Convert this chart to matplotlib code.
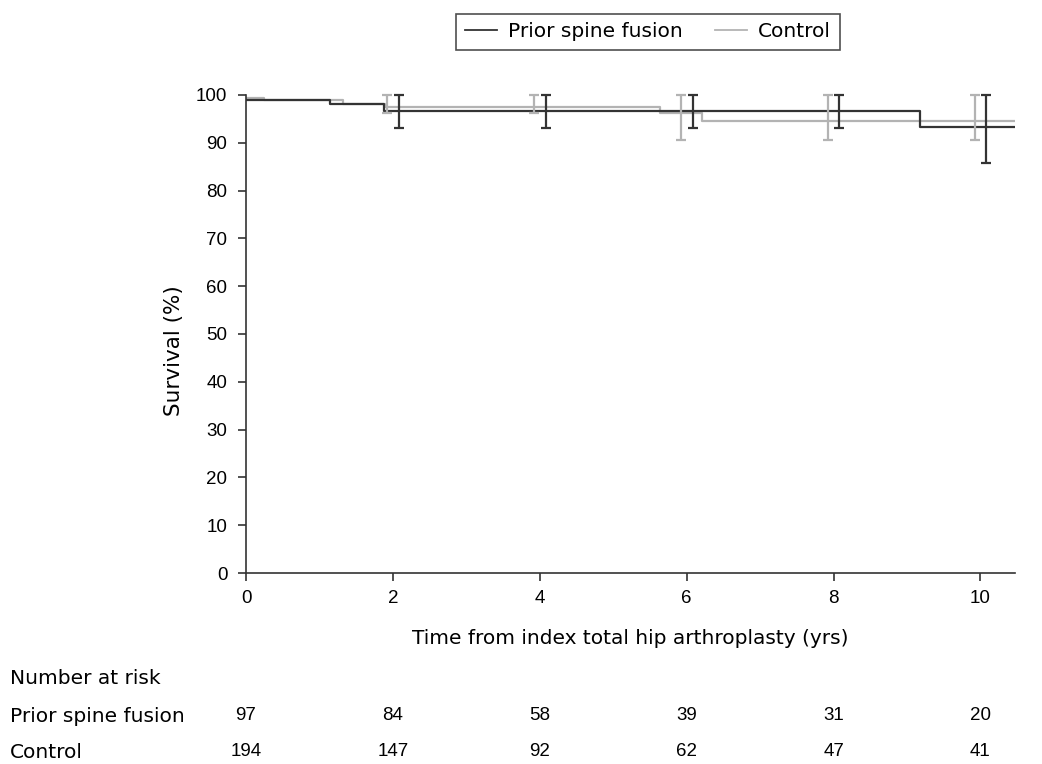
import matplotlib
matplotlib.use("Agg")
import matplotlib.pyplot as plt
import matplotlib.transforms as mtransforms
from matplotlib.lines import Line2D
import numpy as np

plt.rcParams['font.family'] = ['Liberation Sans', 'DejaVu Sans']

# Kaplan-Meier step data (survival %)
pf_times = [0, 1.15, 1.88, 9.18, 10.5]
pf_surv = [99.0, 98.1, 96.6, 93.4, 93.4]
ctrl_times = [0, 0.24, 1.32, 1.89, 5.63, 6.21, 10.5]
ctrl_surv = [99.4, 99.0, 98.1, 97.5, 96.3, 94.6, 94.6]

# Confidence intervals at yearly marks
ci_times = [2, 4, 6, 8, 10]
pf_ci_low = [93.1, 93.1, 93.1, 93.1, 85.7]
pf_ci_high = [100, 100, 100, 100, 100]
ctrl_ci_low = [96.3, 96.3, 90.6, 90.6, 90.6]
ctrl_ci_high = [100, 100, 100, 100, 100]

# Number at risk
risk_times = [0, 2, 4, 6, 8, 10]
pf_risk = [97, 84, 58, 39, 31, 20]
ctrl_risk = [194, 147, 92, 62, 47, 41]

x_ticks = [0, 2, 4, 6, 8, 10]
y_ticks = [0, 10, 20, 30, 40, 50, 60, 70, 80, 90, 100]

dark = '#333333'
light = '#b3b3b3'
fs_tick = 13.5
fs = 14.5
tfam = ['DejaVu Sans']

fig = plt.figure(figsize=(10.42, 7.64), dpi=100)
ax = fig.add_axes([0.2361, 0.25, 0.738, 0.6257])

ax.step(ctrl_times, ctrl_surv, where='post', color=light, lw=1.6, zorder=2)
ax.step(pf_times, pf_surv, where='post', color=dark, lw=1.6, zorder=3)

off = 0.08
ct = np.array(ci_times)
for xs, lo, hi, c in [(ct - off, ctrl_ci_low, ctrl_ci_high, light),
                      (ct + off, pf_ci_low, pf_ci_high, dark)]:
    lo = np.array(lo); hi = np.array(hi)
    ax.errorbar(xs, lo, yerr=[np.zeros_like(lo), hi - lo], fmt='none',
                ecolor=c, elinewidth=1.6, capsize=3.3, capthick=1.6,
                clip_on=False, zorder=4)

ax.set_xlim(0, 10.47)
ax.set_ylim(0, 100)
ax.set_xticks(x_ticks)
ax.set_yticks(y_ticks)
ax.tick_params(labelsize=fs_tick, length=6, width=1.2, color=dark)
ax.tick_params(axis='x', pad=6)
ax.tick_params(axis='y', pad=7.5)
for s in ['top', 'right']:
    ax.spines[s].set_visible(False)
for s in ['left', 'bottom']:
    ax.spines[s].set_color(dark)
    ax.spines[s].set_linewidth(1.2)

fig.text(630 / 1042, 1 - 638 / 764, 'Time from index total hip arthroplasty (yrs)',
         fontsize=fs, family=tfam, ha='center', va='center')
fig.text(174 / 1042, 1 - 351 / 764, 'Survival (%)', fontsize=15.5, family=tfam,
         rotation=90, ha='center', va='center')

handles = [Line2D([], [], color=dark, lw=1.3), Line2D([], [], color=light, lw=1.3)]
leg = fig.legend(handles, ['Prior spine fusion', 'Control'], ncol=2,
                 loc='upper center', bbox_to_anchor=(648 / 1042, 1 - 14 / 764),
                 prop={'family': tfam, 'size': fs}, frameon=True, fancybox=False,
                 handlelength=1.6, handletextpad=0.55, columnspacing=1.6,
                 borderpad=0.42, borderaxespad=0)
leg.get_frame().set_edgecolor('#222222')
leg.get_frame().set_linewidth(1.2)

# Number at risk table
fig.text(10 / 1042, 1 - 678 / 764, 'Number at risk', fontsize=fs, family=tfam, va='center', ha='left')
fig.text(10 / 1042, 1 - 716 / 764, 'Prior spine fusion', fontsize=fs, family=tfam, va='center', ha='left')
fig.text(10 / 1042, 1 - 752 / 764, 'Control', fontsize=fs, family=tfam, va='center', ha='left')
blend = mtransforms.blended_transform_factory(ax.transData, fig.transFigure)
for t, a, b in zip(risk_times, pf_risk, ctrl_risk):
    ax.text(t, 1 - 716 / 764, str(a), transform=blend, fontsize=fs_tick, ha='center', va='center')
    ax.text(t, 1 - 752 / 764, str(b), transform=blend, fontsize=fs_tick, ha='center', va='center')

fig.savefig('out.png', dpi=100)
